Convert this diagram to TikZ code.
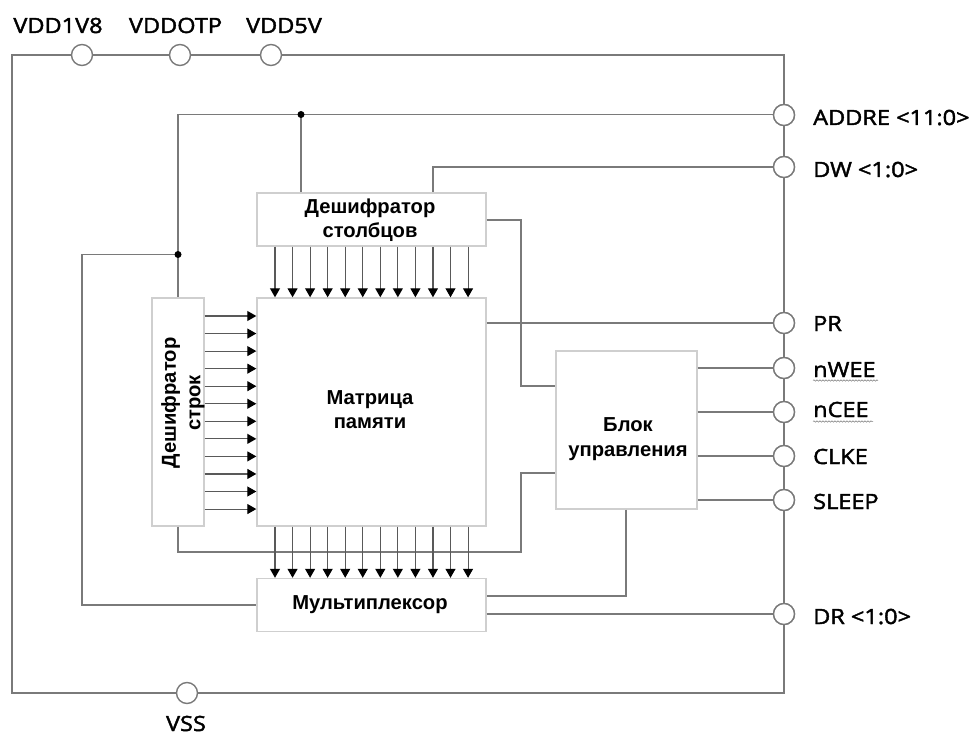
\documentclass[tikz,border=0pt]{standalone}
\usepackage{fontspec}
\setmainfont{Open Sans}
\newfontfamily\blockfont{Liberation Sans}
\usetikzlibrary{arrows.meta,decorations.pathmorphing,calc}
\definecolor{wire}{HTML}{7A7A7A}
\definecolor{boxline}{HTML}{CFCFCF}
\newfontfamily\pinfont[FakeBold=2,FakeStretch=1.12]{Open Sans}
\tikzset{
  wirepath/.style={draw=wire,line width=1.4pt,line join=miter},
  busarrow/.style={draw=black!65,line width=1.1pt,-{Triangle[length=9pt,width=10pt,black]}},
  blockbox/.style={draw=boxline,line width=1.4pt,fill=white,inner sep=0pt,align=center,font=\blockfont\bfseries\fontsize{20.2}{24.5}\selectfont},
  port/.style={circle,draw=wire,line width=1.4pt,fill=white,minimum size=21pt,inner sep=0pt},
  junction/.style={circle,fill=black,minimum size=7pt,inner sep=0pt},
  pinlabel/.style={inner sep=0pt,anchor=base west,font=\pinfont\fontsize{21}{24}\selectfont,text=black},
  pintop/.style={pinlabel,anchor=base},
  squiggle/.style={draw=wire,line width=0.5pt,decorate,decoration={snake,amplitude=0.7pt,segment length=3pt}}
}
\begin{document}
\begin{tikzpicture}[x=1pt,y=-1pt]
\useasboundingbox (0,0) rectangle (971,735);
% frame corners
\coordinate (ftl) at (12,55);
\coordinate (ftr) at (784,55);
\coordinate (fbr) at (784,693);
\coordinate (fbl) at (12,693);
\draw[wirepath] (ftl) -- (ftr) -- (fbr) -- (fbl) -- cycle;
% blocks
\node[blockbox,minimum width=229pt,minimum height=53pt] (col) at (371.5,219.5) {};
\node[blockbox,minimum width=229pt,minimum height=228pt] (mat) at (371.5,412) {};
\node[blockbox,minimum width=52pt,minimum height=228pt] (row) at (178,412) {};
\node[blockbox,minimum width=229pt,minimum height=53pt] (mux) at (371.5,605) {};
\node[blockbox,minimum width=141pt,minimum height=158pt] (ctl) at (626.5,430) {};
% block text
\node[blockbox,draw=none,fill=none] (coltxt) at (370,220) {Дешифратор\\столбцов};
\node[blockbox,draw=none,fill=none] (mattxt) at (370,409.5) {Матрица\\памяти};
\node[blockbox,draw=none,fill=none,rotate=90] (rowtxt) at (183,403) {Дешифратор\\строк};
\node[blockbox,draw=none,fill=none] (muxtxt) at (370,605) {Мультиплексор};
\node[blockbox,draw=none,fill=none] (ctltxt) at (628,439) {Блок\\управления};
% ports
\node[port] (pvdd) at (82,55) {};
\node[port] (potp) at (180,55) {};
\node[port] (pfive) at (271,55) {};
\node[port] (pvss) at (187,693) {};
\node[port] (paddr) at (784,115) {};
\node[port] (pdw) at (784,167) {};
\node[port] (ppr) at (784,323) {};
\node[port] (pwe) at (784,368) {};
\node[port] (pce) at (784,412) {};
\node[port] (pclk) at (784,456) {};
\node[port] (pslp) at (784,500) {};
\node[port] (pdr) at (784,614) {};
% labels
\node[pintop] (lvdd) at (58,33) {VDD1V8};
\node[pintop] (lotp) at (175.5,33) {VDDOTP};
\node[pintop] (lfive) at (284,33) {VDD5V};
\node[pintop] (lvss) at (186,731) {VSS};
\node[pinlabel] (laddr) at (813,125) {ADDRE <11:0>};
\node[pinlabel] (ldw) at (813,177) {DW <1:0>};
\node[pinlabel] (lpr) at (813,331) {PR};
\node[pinlabel] (lwe) at (813,377) {nWEE};
\node[pinlabel] (lce) at (813,417) {nCEE};
\node[pinlabel] (lclk) at (813,464) {CLKE};
\node[pinlabel] (lslp) at (813,509) {SLEEP};
\node[pinlabel] (ldr) at (813,624) {DR <1:0>};
\draw[squiggle] (813,380.5) -- (878,380.5);
\draw[squiggle] (813,421.5) -- (873,421.5);
% wires
\coordinate (addrcorner) at (178,114.5);
\coordinate (leftcorner) at (82,254.5);
\coordinate (muxcorner) at (82,605);
\coordinate (jtopc) at (301,114.5);
\coordinate (jleftc) at (178,254.5);
\draw[wirepath] (paddr.west |- jtopc) -- (jtopc) -- (addrcorner) -- (jleftc) -- (row.north);
\draw[wirepath] (jtopc) -- (jtopc |- col.north);
\draw[wirepath] (jleftc) -- (leftcorner) -- (muxcorner) -- (mux.west |- muxcorner);
\coordinate (dwcorner) at (433,167);
\draw[wirepath] (pdw) -- (dwcorner) -- (dwcorner |- col.north);
\coordinate (c1) at (521,220);
\coordinate (c2) at (521,386);
\draw[wirepath] (col.east |- c1) -- (c1) -- (c2) -- (ctl.west |- c2);
\draw[wirepath] (mat.east |- ppr) -- (ppr);
\coordinate (c3) at (178,552);
\coordinate (c4) at (521,552);
\coordinate (c5) at (521,473);
\draw[wirepath] (row.south) -- (c3) -- (c4) -- (c5) -- (ctl.west |- c5);
\coordinate (c6) at (626,596);
\draw[wirepath] (ctl.south -| c6) -- (c6) -- (mux.east |- c6);
\draw[wirepath] (mux.east |- pdr) -- (pdr);
\foreach \p in {pwe,pce,pclk,pslp} \draw[wirepath] (ctl.east |- \p) -- (\p);
% junctions
\node[junction] (jtop) at (jtopc) {};
\node[junction] (jleft) at (jleftc) {};
% buses
\foreach \i in {0,...,11} {
  \pgfmathsetmacro{\bx}{275+17.55*\i}
  \pgfmathsetmacro{\by}{316+17.55*\i}
  \coordinate (bt) at (\bx,0);
  \coordinate (br) at (0,\by);
  \draw[busarrow] (col.south -| bt) -- (mat.north -| bt);
  \draw[busarrow] (mat.south -| bt) -- (mux.north -| bt);
  \draw[busarrow] (row.east |- br) -- (mat.west |- br);
}
% redraw ports over wire ends
\foreach \p in {paddr,pdw,ppr,pwe,pce,pclk,pslp,pdr} \node[port] at (\p) {};
\end{tikzpicture}
\end{document}
